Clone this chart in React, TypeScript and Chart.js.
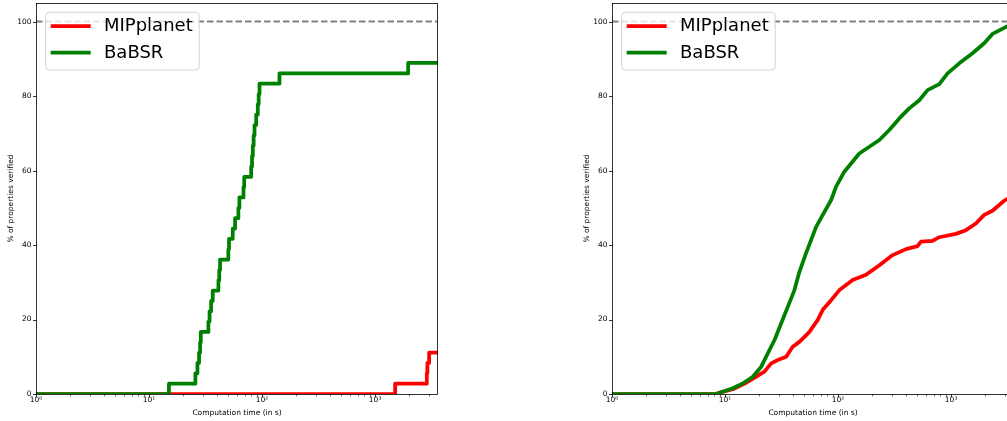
import React, { useEffect, useRef } from 'react';
import { Chart, registerables } from 'chart.js';

Chart.register(...registerables);

// ---------- shared labels / ticks ----------
const SERIES_NAMES = ['MIPplanet', 'BaBSR'];
const SERIES_COLORS = ['#ff0000', '#008000'];
const X_TICKS = [1, 10, 100, 1000];
const X_TICK_LABELS = ['10⁰', '10¹', '10²', '10³'];
const Y_TICKS = [0, 20, 40, 60, 80, 100];
const X_MIN = 1;
const X_MAX = 3600;
const Y_MIN = 0;
const Y_MAX = 105;
const REFERENCE_LEVEL = 100;
const X_TITLE = 'Computation time (in s)';
const Y_TITLE = '% of properties verified';

// ---------- left panel (step data) ----------
const leftMipTimes = [1, 1504, 2866, 2900, 3004, 3600];
const leftMipPct = [0, 2.78, 5.56, 8.33, 11.11, 11.11];

const leftBabsrTimes = [
  1, 15.0, 25.7, 26.8, 27.7, 28.3, 28.7, 33.5, 34.3, 35.4, 36.6, 41.1, 41.8, 42.5,
  50.3, 51.0, 55.0, 57.7, 61.7, 63.0, 68.5, 69.5, 80.1, 81.5, 82.8, 84.2, 85.7,
  88.7, 91.6, 93.3, 94.9, 142.5, 1960, 3600,
];
const leftBabsrPct = [
  0, 2.78, 5.56, 8.33, 11.11, 13.89, 16.67, 19.44, 22.22, 25.0, 27.78, 30.56, 33.33, 36.11,
  38.89, 41.67, 44.44, 47.22, 50.0, 52.78, 55.56, 58.33, 61.11, 63.89, 66.67, 69.44, 72.22,
  75.0, 77.78, 80.56, 83.33, 86.11, 88.89, 88.89,
];

// ---------- right panel ----------
const rightMipTimes = [
  1, 8.3, 8.94, 11.7, 15.4, 18.9, 22.3, 25.6, 29.3, 34.7, 39.7, 45.5, 55.8, 66.1, 73.2,
  86.8, 102.8, 134.6, 176.6, 232, 304, 399, 505, 541, 685, 786, 1102, 1351, 1657, 1961,
  2322, 2944, 3600,
];
const rightMipPct = [
  0, 0, 0.35, 1.26, 3.03, 4.65, 5.99, 8.24, 9.13, 10.0, 12.7, 14.0, 16.7, 19.9, 22.6,
  25.2, 27.9, 30.6, 32.0, 34.6, 37.3, 38.9, 39.7, 40.9, 41.1, 42.1, 43.0, 44.0, 45.8, 48.1,
  49.2, 51.9, 53.5,
];

const rightBabsrTimes = [
  1, 8.3, 8.94, 11.7, 14.4, 17.6, 20.9, 23.9, 27.4, 31.4, 35.9, 41.1, 45.5, 52.1, 57.8,
  63.9, 73.2, 86.8, 96.0, 113.6, 154, 232, 284, 348, 426, 523, 619, 786, 930, 1180, 1547,
  1961, 2322, 3067, 3600,
];
const rightBabsrPct = [
  0, 0, 0.35, 1.53, 2.87, 4.65, 7.33, 10.9, 14.5, 19.0, 23.4, 27.9, 32.8, 37.8, 41.4,
  44.9, 48.1, 52.1, 55.7, 59.7, 64.6, 68.2, 70.9, 74.0, 76.7, 78.9, 81.6, 83.2, 86.1, 88.8, 91.5,
  94.2, 96.7, 98.6, 99.3,
];

const FONT = 'DejaVu Sans';
const SMALL = 7.5;

const toPoints = (xs: number[], ys: number[]) => xs.map((x, i) => ({ x, y: ys[i] }));

const frameTicksPlugin = {
  id: 'frameTicks',
  afterDatasetsDraw(chart: any) {
    const { ctx, chartArea: a, scales } = chart;
    const xs = scales.x;
    const ys = scales.y;
    ctx.save();
    ctx.strokeStyle = '#000';
    ctx.lineWidth = 0.8;
    ctx.strokeRect(a.left + 0.5, a.top + 0.5, a.right - a.left - 1, a.bottom - a.top);
    ctx.beginPath();
    for (const v of Y_TICKS) {
      const py = Math.round(ys.getPixelForValue(v)) + 0.5;
      ctx.moveTo(a.left + 0.5, py);
      ctx.lineTo(a.left - 3, py);
    }
    for (const v of X_TICKS) {
      const px = Math.round(xs.getPixelForValue(v)) + 0.5;
      ctx.moveTo(px, a.bottom + 0.5);
      ctx.lineTo(px, a.bottom + 3.5);
    }
    ctx.stroke();
    ctx.beginPath();
    ctx.lineWidth = 0.6;
    for (let e = 0; e < 4; e++) {
      for (let k = 2; k <= 9; k++) {
        const v = k * Math.pow(10, e);
        if (v > X_MAX) continue;
        const px = Math.round(xs.getPixelForValue(v)) + 0.5;
        ctx.moveTo(px, a.bottom + 0.5);
        ctx.lineTo(px, a.bottom + 2.3);
      }
    }
    ctx.stroke();
    ctx.restore();
  },
  afterDraw(chart: any) {
    const { ctx, chartArea: a } = chart;
    ctx.save();
    const x0 = a.left + 9.7;
    const y0 = a.top + 9.3;
    ctx.beginPath();
    ctx.roundRect(x0, y0, 153.5, 57.7, 3.6);
    ctx.fillStyle = 'rgba(255,255,255,0.8)';
    ctx.fill();
    ctx.lineWidth = 0.8;
    ctx.strokeStyle = '#cccccc';
    ctx.stroke();
    SERIES_NAMES.forEach((name, i) => {
      const y = a.top + 23 + i * 26.7;
      ctx.beginPath();
      ctx.moveTo(a.left + 14.7, y);
      ctx.lineTo(a.left + 54.7, y);
      ctx.strokeStyle = SERIES_COLORS[i];
      ctx.lineWidth = 3.75;
      ctx.stroke();
      ctx.fillStyle = '#000';
      ctx.font = `18px "${FONT}"`;
      ctx.textBaseline = 'middle';
      ctx.textAlign = 'left';
      ctx.fillText(name, a.left + 68, y + 0.5);
    });
    ctx.restore();
  },
};

function makeConfig(mip: { x: number; y: number }[], babsr: { x: number; y: number }[], stepped: any) {
  return {
    type: 'line' as const,
    data: {
      datasets: [
        {
          label: 'reference',
          data: [{ x: X_MIN, y: REFERENCE_LEVEL }, { x: X_MAX, y: REFERENCE_LEVEL }],
          borderColor: '#808080',
          borderDash: [6.5, 3],
          borderWidth: 2,
          pointRadius: 0,
          order: 3,
          clip: 0,
        },
        {
          label: SERIES_NAMES[0],
          data: mip,
          borderColor: SERIES_COLORS[0],
          borderWidth: 3.75,
          borderJoinStyle: 'round',
          pointRadius: 0,
          stepped,
          order: 2,
          clip: 0,
        },
        {
          label: SERIES_NAMES[1],
          data: babsr,
          borderColor: SERIES_COLORS[1],
          borderWidth: 3.75,
          borderJoinStyle: 'round',
          pointRadius: 0,
          stepped,
          order: 1,
          clip: 0,
        },
      ],
    },
    options: {
      responsive: false,
      animation: false,
      devicePixelRatio: 1,
      layout: { padding: { left: 0, right: 12, top: 3, bottom: 0 } },
      plugins: { legend: { display: false }, tooltip: { enabled: false } },
      scales: {
        x: {
          type: 'logarithmic',
          min: X_MIN,
          max: X_MAX,
          afterBuildTicks: (s: any) => {
            s.ticks = X_TICKS.map((value) => ({ value }));
          },
          afterFit: (s: any) => {
            s.height = 27;
            s.paddingLeft = 0;
            s.paddingRight = 0;
          },
          ticks: {
            autoSkip: false,
            maxRotation: 0,
            padding: 1.8,
            color: '#000',
            font: { family: FONT, size: SMALL },
            callback: (_v: any, i: number) => X_TICK_LABELS[i],
          },
          grid: { display: false, drawTicks: false },
          border: { display: false },
          title: {
            display: true,
            text: X_TITLE,
            color: '#000',
            font: { family: FONT, size: SMALL },
            padding: { top: 0, bottom: 3.5 },
          },
        },
        y: {
          type: 'linear',
          min: Y_MIN,
          max: Y_MAX,
          afterBuildTicks: (s: any) => {
            s.ticks = Y_TICKS.map((value) => ({ value }));
          },
          afterFit: (s: any) => {
            s.width = 36;
            s.paddingTop = 0;
            s.paddingBottom = 0;
          },
          ticks: {
            padding: 4.5,
            color: '#000',
            font: { family: FONT, size: SMALL },
          },
          grid: { display: false, drawTicks: false },
          border: { display: false },
          title: {
            display: true,
            text: Y_TITLE,
            color: '#000',
            font: { family: FONT, size: SMALL },
            padding: { top: 6.2, bottom: 0 },
          },
        },
      },
    },
    plugins: [frameTicksPlugin],
  };
}

export default function App() {
  const leftRef = useRef<HTMLCanvasElement>(null);
  const rightRef = useRef<HTMLCanvasElement>(null);

  useEffect(() => {
    const c1 = new Chart(
      leftRef.current!,
      makeConfig(toPoints(leftMipTimes, leftMipPct), toPoints(leftBabsrTimes, leftBabsrPct), 'before') as any
    );
    const c2 = new Chart(
      rightRef.current!,
      makeConfig(toPoints(rightMipTimes, rightMipPct), toPoints(rightBabsrTimes, rightBabsrPct), false) as any
    );
    return () => {
      c1.destroy();
      c2.destroy();
    };
  }, []);

  return (
    <div
      style={{
        position: 'fixed',
        left: 0,
        top: 0,
        width: 1007,
        height: 421,
        overflow: 'hidden',
        background: '#fff',
      }}
    >
      <canvas
        ref={leftRef}
        width={450}
        height={421}
        style={{ position: 'absolute', left: 0, top: 0, width: 450, height: 421 }}
      />
      <canvas
        ref={rightRef}
        width={450}
        height={421}
        style={{ position: 'absolute', left: 576, top: 0, width: 450, height: 421 }}
      />
    </div>
  );
}
